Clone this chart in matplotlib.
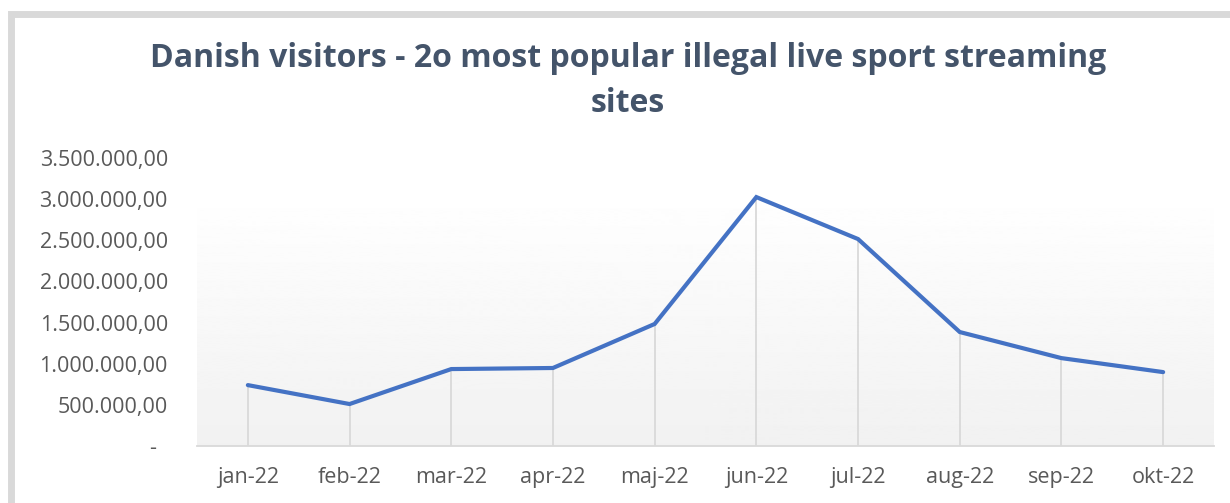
import numpy as np
import matplotlib
matplotlib.use("Agg")
import matplotlib.pyplot as plt
from matplotlib.patches import Rectangle
from matplotlib.ticker import FuncFormatter

# data
months = ["jan-22", "feb-22", "mar-22", "apr-22", "maj-22",
          "jun-22", "jul-22", "aug-22", "sep-22", "okt-22"]
visitors = [740000, 510000, 935000, 948000, 1483000,
            3025000, 2515000, 1385000, 1068000, 898000]
yticks = [0, 500000, 1000000, 1500000, 2000000, 2500000, 3000000, 3500000]

title = "Danish visitors - 2o most popular illegal live sport streaming\nsites"

plt.rcParams['font.family'] = ['Open Sans', 'DejaVu Sans']


def dk_fmt(v, pos):
    # Excel style accounting format: dash for zero, '.' thousands, ',' decimals
    if v == 0:
        return "-  "
    s = f"{v:,.2f}"
    return s.replace(",", "X").replace(".", ",").replace("X", ".")


def main():
    fig = plt.figure(figsize=(12.3, 5.03), dpi=100)

    # outer chart frame (cropped on right/bottom)
    fig.patches.append(Rectangle((11 / 1230, -0.1), 1.2, 1 - 14 / 503 + 0.1,
                                 transform=fig.transFigure, fill=False,
                                 edgecolor="#D9D9D9", linewidth=5))

    ax = fig.add_axes([197 / 1230, 1 - 446 / 503, (1214 - 197) / 1230, (446 - 158) / 503])

    # gradient plot area: light grey at the bottom, white at the top
    grad = np.linspace(0.945, 1.0, 256).reshape(-1, 1)
    ax.imshow(grad, cmap="gray", vmin=0, vmax=1, aspect="auto", origin="lower",
              extent=[0, 1, 0, 0.89], transform=ax.transAxes, zorder=0)

    x = np.arange(len(months))
    ax.vlines(x, 0, visitors, colors="#D9D9D9", linewidth=1.3, zorder=1)
    ax.plot(x, visitors, color="#4472C4", linewidth=3, solid_capstyle="round",
            solid_joinstyle="miter", zorder=3)

    ax.set_xlim(-0.5, len(months) - 0.5)
    ax.set_ylim(0, 3500000)
    ax.set_yticks(yticks)
    ax.yaxis.set_major_formatter(FuncFormatter(dk_fmt))
    ax.set_xticks(x)
    ax.set_xticklabels(months)

    for side in ["top", "right", "left"]:
        ax.spines[side].set_visible(False)
    ax.spines["bottom"].set_color("#D9D9D9")
    ax.spines["bottom"].set_linewidth(1.3)

    ax.tick_params(axis="both", length=0, colors="#595959", labelsize=15.5)
    ax.tick_params(axis="y", pad=21)
    ax.tick_params(axis="x", pad=15)

    fig.text(628 / 1230, 1 - 81 / 503, title, ha="center", va="center",
             fontsize=23, fontweight="bold", color="#44546A", linespacing=1.45)

    fig.savefig("out.png", dpi=100)


if __name__ == "__main__":
    main()
